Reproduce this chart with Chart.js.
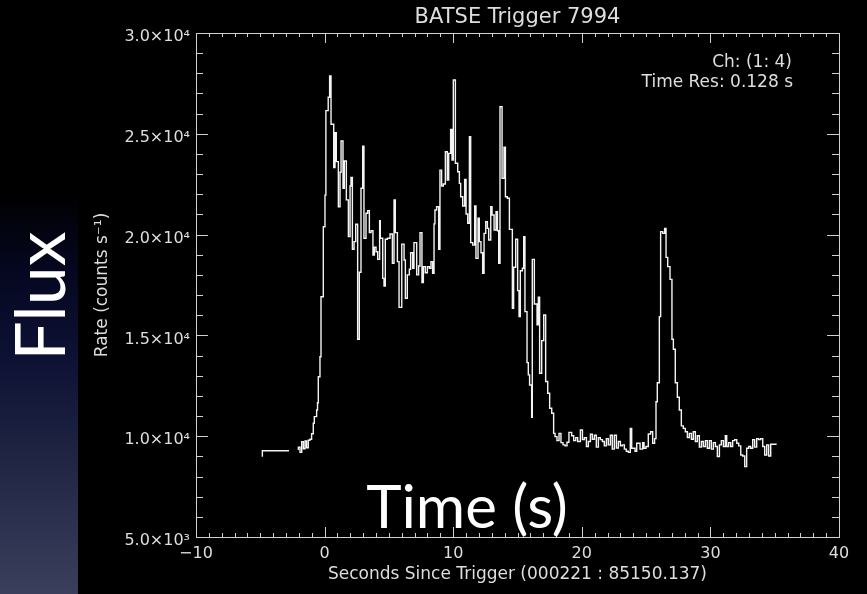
<!DOCTYPE html>
<html>
<head>
<meta charset="utf-8">
<script src="https://cdn.jsdelivr.net/npm/chart.js@4.4.1/dist/chart.umd.min.js"></script>
<style>
  html, body { margin: 0; padding: 0; background: #000; }
  #wrap { position: relative; width: 867px; height: 594px; overflow: hidden; background: #000; }
  #strip { position: absolute; left: 0; top: 0; width: 78px; height: 594px;
    background: linear-gradient(to bottom, #000 0%, #000 32%, #05071f 45%, #0d1134 60%, #222845 80%, #3a405c 100%); }
  canvas { position: absolute; left: 0; top: 0; }
</style>
</head>
<body>
<div id="wrap">
  <div id="strip"></div>
  <canvas id="c" width="867" height="594"></canvas>
</div>
<script>
// ---- data (seconds since trigger, counts/s) ----
const times = [
  -4.84, -3.73, -2.77, -2.40,
  -2.04, -1.91, -1.78, -1.65, -1.52, -1.40, -1.27, -1.14, -1.01, -0.88, -0.80, -0.62, -0.55, -0.49, -0.36, -0.28, -0.10,
  0.03, 0.10, 0.28, 0.39, 0.50, 0.71, 0.81, 0.91, 1.07, 1.20, 1.28, 1.43, 1.53, 1.69, 1.85, 1.98, 2.05, 2.16, 2.29, 2.42,
  2.57, 2.70, 2.83, 2.96, 3.06, 3.22, 3.35, 3.48, 3.61, 3.76, 3.87, 4.00, 4.13, 4.28, 4.33, 4.52, 4.62, 4.72, 4.88, 5.09,
  5.27, 5.40, 5.50, 5.66, 5.79, 6.00, 6.18, 6.28, 6.43, 6.59, 6.69, 6.85, 6.95, 7.16, 7.31, 7.42, 7.57, 7.68, 7.83, 7.99,
  8.14, 8.27, 8.40, 8.51, 8.58, 8.71, 8.87, 8.97, 9.10, 9.23, 9.39, 9.54, 9.65, 9.80, 9.91, 10.01, 10.17, 10.35, 10.48, 10.58,
  10.74, 10.89, 11.00, 11.13, 11.26, 11.36, 11.52, 11.67, 11.77, 11.93, 12.03, 12.16, 12.29, 12.40, 12.53, 12.66, 12.76, 12.92, 13.02, 13.18,
  13.33, 13.44, 13.54, 13.64, 13.80, 13.95, 14.06, 14.21, 14.37, 14.60, 14.70, 14.86, 15.01, 15.12, 15.22, 15.38, 15.48, 15.58, 15.74, 15.84,
  15.94, 16.10, 16.15, 16.31, 16.52, 16.62, 16.72, 16.88, 17.04, 17.19, 17.35, 17.50, 17.66, 17.81, 17.92, 18.07, 18.23, 18.38, 18.54, 18.70,
  18.85, 19.00, 19.21, 19.37, 19.53, 19.68, 19.89, 20.05, 20.20, 20.36, 20.51, 20.67, 20.82, 20.98, 21.13, 21.29, 21.44, 21.60, 21.75, 21.91,
  22.06, 22.22, 22.37, 22.53, 22.69, 22.84, 23.00, 23.15, 23.31, 23.46, 23.62, 23.77, 23.88, 24.01, 24.14, 24.27, 24.53, 24.73, 24.84, 24.99,
  25.17, 25.35, 25.51, 25.66, 25.77, 25.87, 26.03, 26.13, 26.29, 26.44, 26.55, 26.68, 26.86, 27.01, 27.12, 27.27, 27.43, 27.58, 27.74, 27.89,
  28.05, 28.21, 28.36, 28.52, 28.67, 28.83, 28.98, 29.14, 29.30, 29.45, 29.61, 29.76, 29.92, 30.07, 30.23, 30.39, 30.54, 30.70, 30.85, 31.01,
  31.16, 31.27, 31.42, 31.58, 31.73, 31.89, 32.05, 32.20, 32.36, 32.51, 32.67, 32.82, 32.98, 33.13, 33.29, 33.44, 33.60, 33.75, 33.91, 34.07,
  34.22, 34.38, 34.53, 34.69, 34.79, 35.15
];
const rates = [
  8980, 9280, 9280, null,
  9320, 9450, 9200, 9730, 9380, 9760, 9430, 9800, 9850, 10120, 10640, 10970, 11300, 11660, 12950, 13940, 16920,
  20390, 21960, 26150, 26810, 27870, 25470, 23320, 25050, 23620, 21380, 23090, 24640, 22300, 23650, 21720, 19900, 22410, 22840, 19270, 19650,
  20510, 14810, 18130, 22300, 24390, 19820, 21060, 21190, 20100, 20190, 18990, 19370, 19150, 18770, 20690, 19820, 17830, 17450, 19770, 19820,
  20030, 18580, 21720, 20100, 18660, 16390, 19530, 18740, 16840, 18000, 18280, 19100, 18330, 19600, 18000, 18440, 20100, 17620, 18410, 18110,
  18410, 18330, 18660, 18080, 20530, 21220, 21380, 19270, 23200, 22410, 22510, 24110, 22710, 24030, 25220, 23700, 27670, 23540, 23120, 22540,
  21880, 21420, 22740, 21020, 20560, 24860, 19600, 19480, 21420, 18820, 20810, 19650, 19100, 18080, 20060, 20640, 20310, 19730, 21380, 20970,
  20230, 21140, 20190, 18580, 26340, 22790, 24330, 21880, 21800, 20260, 16340, 18380, 19770, 17220, 15930, 18210, 18330, 19900, 16180, 13650,
  13040, 12540, 10940, 18770, 16560, 15520, 16890, 13120, 14740, 16010, 12710, 12130, 11390, 11140, 10140, 9980, 9780, 10140, 9680, 9570,
  9520, 9700, 10190, 10020, 9780, 9930, 9740, 10310, 9830, 9930, 9490, 9740, 10100, 9850, 10050, 9460, 9930, 9830, 9740, 9520,
  9880, 9570, 10050, 9360, 10050, 9410, 9740, 9520, 9570, 9360, 9250, 9200, 10390, 9400, 9400, 9250, 9650, 9360, 9680, 9400,
  9490, 10110, 10220, 9650, 9880, 11710, 12650, 15930, 20150, 20060, 20310, 18870, 18410, 17780, 14810, 14310, 12650, 11930, 11300, 10510,
  10390, 10220, 9930, 10140, 9850, 10220, 9740, 10020, 9460, 9740, 9490, 9780, 9400, 9780, 9360, 9680, 9490, 8990, 9570, 9780,
  9490, 10020, 9490, 9680, 9490, 9780, 9830, 9650, 9520, 9070, 9020, 8490, 9400, 9490, 9400, 9830, 9460, 9880, 9830, 9880,
  9490, 9070, 9570, 9020, 9600, 9600
];
const xTickValues = [-10, 0, 10, 20, 30, 40];
const xTickLabels = ['\u221210', '0', '10', '20', '30', '40'];
const yTickValues = [5000, 10000, 15000, 20000, 25000, 30000];
const yTickLabels = ['5.0\u00d710\u00b3', '1.0\u00d710\u2074', '1.5\u00d710\u2074', '2.0\u00d710\u2074', '2.5\u00d710\u2074', '3.0\u00d710\u2074'];
const titleText = 'BATSE Trigger 7994';
const xTitleText = 'Seconds Since Trigger (000221 : 85150.137)';
const yTitleText = 'Rate (counts s\u207b\u00b9)';
const noteLines = ['Ch: (1: 4)', 'Time Res: 0.128 s'];
const slideXLabel = 'Time (s)';
const slideYLabel = 'Flux';

const points = times.map((t, i) => ({ x: t, y: rates[i] }));
const TXT = '#dedede';
const AX = '#d0d0d0';
const tickFont = { family: 'DejaVu Sans', size: 16 };
const axisTitleFont = { family: 'DejaVu Sans', size: 17 };

const framePlugin = {
  id: 'frame',
  afterDraw(chart) {
    const ctx = chart.ctx;
    const { left, right, top, bottom } = chart.chartArea;
    const xs = chart.scales.x, ys = chart.scales.y;
    ctx.save();
    ctx.strokeStyle = AX;
    ctx.lineWidth = 1;
    ctx.strokeRect(Math.round(left) + 0.5, Math.round(top) + 0.5, Math.round(right - left), Math.round(bottom - top));
    ctx.beginPath();
    for (let v = -10; v <= 40; v += 1) {
      const x = Math.round(xs.getPixelForValue(v)) + 0.5;
      const len = (v % 10 === 0) ? 10 : 4;
      ctx.moveTo(x, bottom); ctx.lineTo(x, bottom - len);
      ctx.moveTo(x, top); ctx.lineTo(x, top + len);
    }
    for (let v = 5000; v <= 30000; v += 1000) {
      const y = Math.round(ys.getPixelForValue(v)) + 0.5;
      const len = (v % 5000 === 0) ? 12 : 7;
      ctx.moveTo(left, y); ctx.lineTo(left + len, y);
      ctx.moveTo(right, y); ctx.lineTo(right - len, y);
    }
    ctx.stroke();

    // annotation in the upper right corner
    ctx.fillStyle = TXT;
    ctx.font = '17px "DejaVu Sans"';
    ctx.textAlign = 'right';
    ctx.textBaseline = 'middle';
    ctx.fillText(noteLines[0], 792, 63);
    ctx.fillText(noteLines[1], 793, 83);

    // big slide labels
    ctx.fillStyle = '#ffffff';
    ctx.font = '400 60px Lato';
    ctx.textAlign = 'center';
    ctx.textBaseline = 'alphabetic';
    ctx.fillText(slideXLabel, 467, 528);

    ctx.save();
    ctx.translate(65, 296);
    ctx.rotate(-Math.PI / 2);
    ctx.font = '400 70px Lato';
    ctx.fillText(slideYLabel, 0, 0);
    ctx.restore();
    ctx.restore();
  }
};

new Chart(document.getElementById('c'), {
  type: 'line',
  data: {
    datasets: [{
      data: points,
      stepped: 'after',
      borderColor: '#f4f4f4',
      borderWidth: 1.4,
      pointRadius: 0,
      fill: false,
      spanGaps: false
    }]
  },
  options: {
    responsive: false,
    animation: false,
    events: [],
    layout: { padding: { left: 46, right: 28, top: 0, bottom: 0 } },
    plugins: {
      legend: { display: false },
      tooltip: { enabled: false },
      title: {
        display: true, fullSize: false, text: titleText, color: TXT,
        font: { family: 'DejaVu Sans', size: 21, weight: 'normal' },
        padding: { top: 5, bottom: 2.8 }
      }
    },
    scales: {
      x: {
        type: 'linear', min: -10, max: 40,
        afterBuildTicks: (s) => { s.ticks = xTickValues.map(v => ({ value: v })); },
        ticks: {
          color: TXT, font: tickFont, padding: 7, maxRotation: 0, autoSkip: false,
          callback: (v) => xTickLabels[xTickValues.indexOf(v)]
        },
        grid: { display: false, drawTicks: false },
        border: { display: false },
        title: { display: true, text: xTitleText, color: TXT, font: axisTitleFont, padding: { top: 0, bottom: 9.5 } },
        afterFit: (s) => { s.height = 57; }
      },
      y: {
        type: 'linear', min: 5000, max: 30000,
        afterBuildTicks: (s) => { s.ticks = yTickValues.map(v => ({ value: v })); },
        ticks: {
          color: TXT, font: tickFont, padding: 6, labelOffset: 4, autoSkip: false,
          callback: (v) => yTickLabels[yTickValues.indexOf(v)]
        },
        grid: { display: false, drawTicks: false },
        border: { display: false },
        title: { display: true, text: yTitleText, color: TXT, font: axisTitleFont, padding: { top: 46.8, bottom: 0 } },
        afterFit: (s) => { s.width = 150; }
      }
    }
  },
  plugins: [framePlugin]
});
</script>
</body>
</html>
